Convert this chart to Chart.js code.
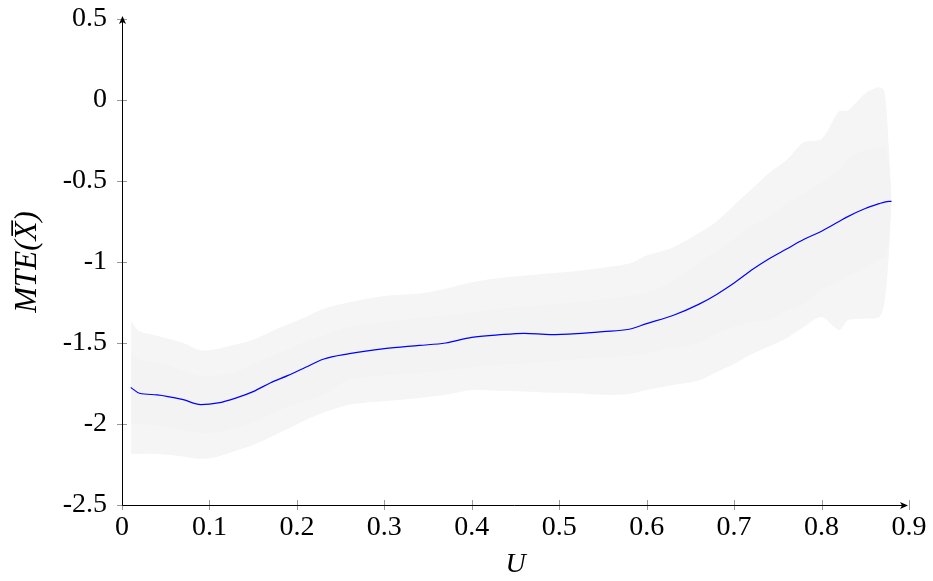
<!DOCTYPE html>
<html>
<head>
<meta charset="utf-8">
<script src="https://cdn.jsdelivr.net/npm/chart.js@4"></script>
<style>
  html, body { margin: 0; padding: 0; background: #fff; }
</style>
</head>
<body>
<canvas id="chart" width="933" height="581"></canvas>
<script>
// U values
const uValues = [0.01, 0.02, 0.04, 0.07, 0.09, 0.11, 0.13, 0.15, 0.17, 0.19,
                 0.21, 0.23, 0.26, 0.3, 0.34, 0.37, 0.4, 0.43, 0.46, 0.49,
                 0.52, 0.55, 0.58, 0.6, 0.63, 0.66, 0.68, 0.7, 0.72, 0.74,
                 0.76, 0.78, 0.8, 0.82, 0.83, 0.85, 0.866, 0.872, 0.877, 0.88];
// MTE estimate
const mte = [-1.774, -1.81, -1.82, -1.85, -1.88, -1.87, -1.84, -1.80, -1.745, -1.70,
             -1.65, -1.60, -1.566, -1.535, -1.515, -1.50, -1.465, -1.45, -1.44, -1.448,
             -1.442, -1.43, -1.415, -1.38, -1.33, -1.26, -1.20, -1.13, -1.05, -0.98,
             -0.92, -0.86, -0.81, -0.75, -0.72, -0.67, -0.64, -0.63, -0.626, -0.626];
// outer band (wide interval)
const outerUpper = [-1.366, -1.428, -1.455, -1.50, -1.545, -1.535, -1.51, -1.48, -1.43, -1.385,
                    -1.34, -1.29, -1.249, -1.21, -1.195, -1.165, -1.125, -1.10, -1.085, -1.07,
                    -1.055, -1.035, -1.01, -0.96, -0.91, -0.82, -0.75, -0.65, -0.55, -0.45,
                    -0.37, -0.26, -0.24, -0.07, -0.065, 0.04, 0.078, 0.05, -0.30, -0.62];
const outerLower = [-2.184, -2.185, -2.185, -2.20, -2.215, -2.20, -2.165, -2.13, -2.08, -2.03,
                    -1.975, -1.93, -1.881, -1.86, -1.84, -1.82, -1.79, -1.795, -1.80, -1.807,
                    -1.81, -1.82, -1.815, -1.79, -1.76, -1.73, -1.68, -1.63, -1.57, -1.52,
                    -1.47, -1.40, -1.34, -1.42, -1.36, -1.35, -1.34, -1.25, -0.95, -0.63];
// inner band (narrow interval)
const innerUpper = [-1.572, -1.60, -1.62, -1.67, -1.705, -1.70, -1.68, -1.63, -1.58, -1.54,
                    -1.49, -1.455, -1.40, -1.37, -1.345, -1.33, -1.31, -1.29, -1.275, -1.263,
                    -1.25, -1.23, -1.21, -1.19, -1.12, -1.0, -0.93, -0.86, -0.78, -0.72,
                    -0.64, -0.58, -0.51, -0.43, -0.36, -0.31, -0.29, -0.29, -0.40, -0.62];
const innerLower = [-1.993, -2.00, -2.01, -2.04, -2.055, -2.05, -2.02, -1.99, -1.94, -1.89,
                    -1.86, -1.82, -1.727, -1.70, -1.685, -1.67, -1.65, -1.635, -1.625, -1.614,
                    -1.60, -1.59, -1.58, -1.565, -1.53, -1.50, -1.44, -1.40, -1.37, -1.356,
                    -1.30, -1.26, -1.17, -1.12, -1.09, -1.04, -0.98, -0.97, -0.85, -0.63];
const xTicks = [0, 0.1, 0.2, 0.3, 0.4, 0.5, 0.6, 0.7, 0.8, 0.9];
const yTicks = [-2.5, -2, -1.5, -1, -0.5, 0, 0.5];

function pts(ys) {
  return uValues.map((u, i) => ({ x: u, y: ys[i] }));
}

const fmt = v => String(Math.round(v * 10) / 10);

// axis lines with arrows and crossing tick marks
const axesPlugin = {
  id: 'axesArrows',
  afterDraw(chart) {
    const ctx = chart.ctx;
    const xs = chart.scales.x, ys = chart.scales.y;
    const x0 = xs.getPixelForValue(0), y0 = ys.getPixelForValue(-2.5);
    const xEnd = xs.getPixelForValue(0.9), yEnd = ys.getPixelForValue(0.5);
    ctx.save();
    ctx.strokeStyle = '#999';
    ctx.lineWidth = 1;
    xTicks.forEach(t => {
      const p = Math.round(xs.getPixelForValue(t)) + 0.5;
      ctx.beginPath(); ctx.moveTo(p, y0 - 5); ctx.lineTo(p, y0 + 5); ctx.stroke();
    });
    yTicks.forEach(t => {
      const p = Math.round(ys.getPixelForValue(t)) + 0.5;
      ctx.beginPath(); ctx.moveTo(x0 - 5, p); ctx.lineTo(x0 + 5, p); ctx.stroke();
    });
    ctx.strokeStyle = '#000';
    ctx.fillStyle = '#000';
    const ax = Math.round(x0) + 0.5, ay = Math.round(y0) + 0.5;
    ctx.beginPath(); ctx.moveTo(ax, ay); ctx.lineTo(ax, yEnd - 2); ctx.stroke();
    ctx.beginPath(); ctx.moveTo(ax, ay); ctx.lineTo(xEnd - 2, ay); ctx.stroke();
    // arrow heads
    ctx.beginPath();
    ctx.moveTo(ax, yEnd - 3); ctx.lineTo(ax - 3.5, yEnd + 5); ctx.lineTo(ax, yEnd + 3); ctx.lineTo(ax + 3.5, yEnd + 5);
    ctx.closePath(); ctx.fill();
    ctx.beginPath();
    ctx.moveTo(xEnd - 1, ay); ctx.lineTo(xEnd - 9, ay - 3.5); ctx.lineTo(xEnd - 7, ay); ctx.lineTo(xEnd - 9, ay + 3.5);
    ctx.closePath(); ctx.fill();
    ctx.restore();
  }
};

const band = (data, color, fill, order) => ({
  data: data, borderWidth: 0, pointRadius: 0, backgroundColor: color,
  fill: fill, tension: 0.3, order: order
});

new Chart(document.getElementById('chart'), {
  type: 'line',
  data: {
    datasets: [
      band(pts(outerUpper), '#f5f5f5', '+1', 3),
      band(pts(outerLower), '#f5f5f5', false, 3),
      band(pts(innerUpper), '#f3f3f3', '+1', 2),
      band(pts(innerLower), '#f3f3f3', false, 2),
      {
        data: pts(mte), borderColor: '#0000ff', borderWidth: 1.2,
        pointRadius: 0, fill: false, cubicInterpolationMode: 'monotone', order: 0
      }
    ]
  },
  options: {
    responsive: false,
    animation: false,
    layout: { padding: { top: 19, right: 24, left: 0, bottom: 0 } },
    plugins: { legend: { display: false }, tooltip: { enabled: false } },
    scales: {
      x: {
        type: 'linear', min: 0, max: 0.9,
        afterBuildTicks: s => { s.ticks = xTicks.map(v => ({ value: v })); },
        afterFit: s => { s.height = 76; s.paddingLeft = 0; s.paddingRight = 0; },
        grid: { display: false, drawTicks: false },
        border: { display: false },
        ticks: {
          padding: 6, color: '#000', maxRotation: 0, autoSkip: false,
          font: { family: 'Liberation Serif', size: 28 },
          callback: v => fmt(v)
        },
        title: {
          display: true, text: 'U', color: '#000',
          font: { family: 'Liberation Serif', size: 28, style: 'italic' },
          padding: { top: 0, bottom: 0 }
        }
      },
      y: {
        type: 'linear', min: -2.5, max: 0.5,
        afterBuildTicks: s => { s.ticks = yTicks.map(v => ({ value: v })); },
        afterFit: s => { s.width = 122; s.paddingTop = 0; s.paddingBottom = 0; },
        grid: { display: false, drawTicks: false },
        border: { display: false },
        ticks: {
          padding: 15, color: '#000', autoSkip: false,
          font: { family: 'Liberation Serif', size: 28 },
          callback: v => fmt(v)
        },
        title: {
          display: true, text: 'MTE(X\u0305)', color: '#000',
          font: { family: "'Liberation Serif', 'DejaVu Serif'", size: 31, style: 'italic' },
          padding: { top: 9, bottom: 0 }
        }
      }
    }
  },
  plugins: [axesPlugin]
});
</script>
</body>
</html>
